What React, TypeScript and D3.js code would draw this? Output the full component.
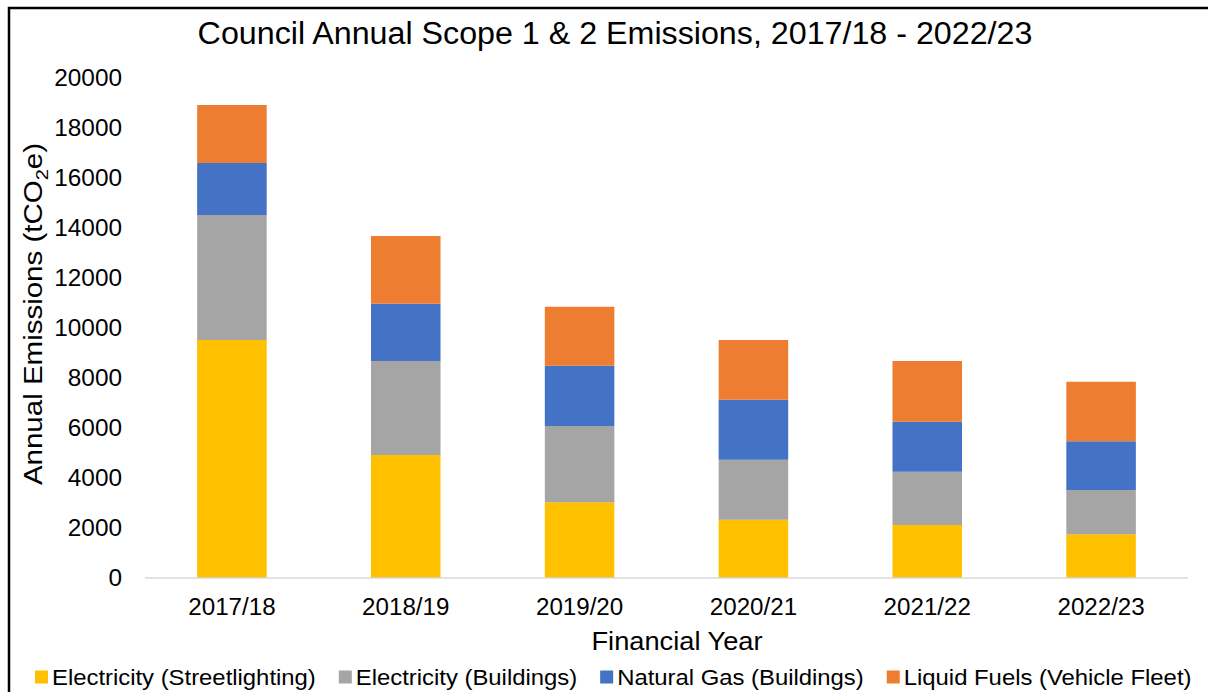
import React, { useEffect, useRef } from "react";
import * as d3 from "d3";

const years = ["2017/18", "2018/19", "2019/20", "2020/21", "2021/22", "2022/23"];
const streetlighting = [9520, 4920, 3030, 2330, 2120, 1750];
const buildingsElec = [5000, 3760, 3050, 2400, 2130, 1770];
const naturalGas = [2080, 2290, 2410, 2400, 2000, 1950];
const liquidFuels = [2320, 2710, 2360, 2390, 2430, 2380];
const seriesNames = [
  "Electricity (Streetlighting)",
  "Electricity (Buildings)",
  "Natural Gas (Buildings)",
  "Liquid Fuels (Vehicle Fleet)",
];
const seriesColors = ["#FFC000", "#A5A5A5", "#4472C4", "#ED7D31"];
const yTicks = [0, 2000, 4000, 6000, 8000, 10000, 12000, 14000, 16000, 18000, 20000];

const W = 1208;
const H = 692;
const FONT = "'Liberation Sans', Arial, sans-serif";

const App: React.FC = () => {
  const svgRef = useRef<SVGSVGElement | null>(null);

  useEffect(() => {
    if (!svgRef.current) return;
    const svg = d3.select(svgRef.current);
    svg.selectAll("*").remove();

    // the source chart is a little stretched sideways, so text gets an x scale
    const label = (
      px: number, py: number, txt: string, size: number, sx: number,
      anchor: string = "start"
    ) =>
      svg.append("text")
        .attr("transform", `translate(${px},${py}) scale(${sx},1)`)
        .attr("dy", "0.35em")
        .attr("text-anchor", anchor)
        .style("font-family", FONT)
        .style("font-size", `${size}px`)
        .text(txt);

    const margin = { top: 78, right: 20, bottom: 114, left: 145 };
    const x = d3.scaleBand<string>()
      .domain(years)
      .range([margin.left, W - margin.right])
      .paddingInner(0.6)
      .paddingOuter(0.3);
    const y = d3.scaleLinear().domain([0, 20000]).range([H - margin.bottom, margin.top]);

    // outer frame
    svg.append("rect")
      .attr("x", 9)
      .attr("y", 8)
      .attr("width", W + 20)
      .attr("height", H + 20)
      .attr("fill", "white")
      .attr("stroke", "black")
      .attr("stroke-width", 2.5);

    // title
    label(615, 33, "Council Annual Scope 1 & 2 Emissions, 2017/18 - 2022/23", 31, 1.04, "middle");

    // stacked bars
    const rows = years.map((yr, i) => ({
      year: yr,
      s0: streetlighting[i],
      s1: buildingsElec[i],
      s2: naturalGas[i],
      s3: liquidFuels[i],
    }));
    const layers = d3.stack<any>().keys(["s0", "s1", "s2", "s3"])(rows);

    svg.append("g")
      .selectAll("g")
      .data(layers)
      .join("g")
      .attr("fill", (_, i) => seriesColors[i])
      .selectAll("rect")
      .data(d => d)
      .join("rect")
      .attr("x", d => x(d.data.year)!)
      .attr("width", x.bandwidth())
      .attr("y", d => y(d[1]))
      .attr("height", d => y(d[0]) - y(d[1]));

    // baseline
    svg.append("line")
      .attr("x1", margin.left)
      .attr("x2", W - margin.right)
      .attr("y1", y(0))
      .attr("y2", y(0))
      .attr("stroke", "#D9D9D9")
      .attr("stroke-width", 1.5);

    // y tick labels
    yTicks.forEach(t => label(122, y(t), String(t), 23, 1.06, "end"));

    // x tick labels
    years.forEach(yr => label(x(yr)! + x.bandwidth() / 2, 607, yr, 23, 1.05, "middle"));

    // x axis title
    label(677, 641, "Financial Year", 25, 1.09, "middle");

    // y axis title
    const yt = svg.append("text")
      .attr("transform", "translate(33,314) rotate(-90) scale(1.18,1)")
      .attr("dy", "0.35em")
      .attr("text-anchor", "middle")
      .style("font-family", FONT)
      .style("font-size", "25px");
    yt.append("tspan").text("Annual Emissions (tCO");
    yt.append("tspan").attr("dy", 6).style("font-size", "17px").text("2");
    yt.append("tspan").attr("dy", -6).text("e)");

    // legend
    const sx = 1.085;
    let lx = 35;
    const ly = 677;
    seriesNames.forEach((name, i) => {
      svg.append("rect")
        .attr("x", lx)
        .attr("y", ly - 6.5)
        .attr("width", 13)
        .attr("height", 13)
        .attr("fill", seriesColors[i]);
      const t = label(lx + 17, ly, name, 22, sx);
      const len = (t.node() as SVGTextElement).getComputedTextLength() * sx;
      lx = lx + 17 + len + 23;
    });
  }, []);

  return (
    <svg
      ref={svgRef}
      width={W}
      height={H}
      style={{ position: "absolute", left: 0, top: 0, background: "white" }}
    />
  );
};

export default App;
